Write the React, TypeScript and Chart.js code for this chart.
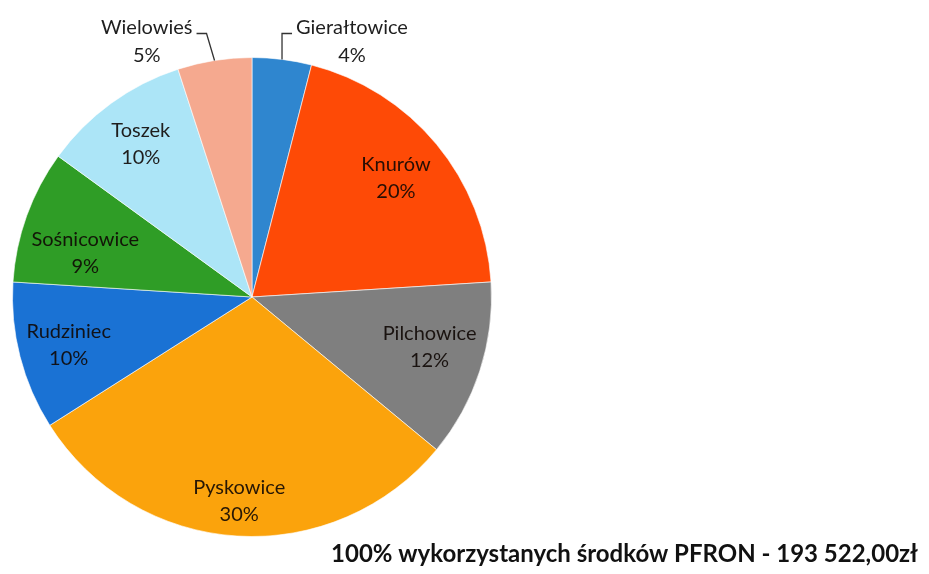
import React, { useEffect, useRef } from "react";
import { Chart, registerables } from "chart.js";

Chart.register(...registerables);

const categories = ["Gierałtowice", "Knurów", "Pilchowice", "Pyskowice", "Rudziniec", "Sośnicowice", "Toszek", "Wielowieś"];
const shares = [4, 20, 12, 30, 10, 9, 10, 5];
const sliceColors = ["#2f86cf", "#fe4a06", "#7f7f7f", "#fba30c", "#1a72d4", "#2f9d26", "#acE5f7", "#f5a98f"];
const footerText = "100% wykorzystanych środków PFRON - 193 522,00zł";

// label placement styling: radius fraction and angle shift (degrees)
const labelRadius = [0, 0.78, 0.77, 0.85, 0.79, 0.72, 0.79, 0];
const labelAngleShift = [0, 0, -2.3, 0, 0, -5, 0, 0];
const outsideIdx = [0, 7];

const labelPlugin = {
  id: "pieLabels",
  afterDraw(chart: any) {
    const ctx = chart.ctx;
    const meta = chart.getDatasetMeta(0);
    const font = "20px Lato";
    ctx.save();
    ctx.textAlign = "center";
    ctx.textBaseline = "middle";
    meta.data.forEach((arc: any, i: number) => {
      const { x, y, startAngle, endAngle, outerRadius } = arc.getProps(["x", "y", "startAngle", "endAngle", "outerRadius"], true);
      const mid = (startAngle + endAngle) / 2 + (labelAngleShift[i] * Math.PI) / 180;
      const text1 = categories[i];
      const text2 = shares[i] + "%";
      if (outsideIdx.includes(i)) {
        const ex = x + Math.cos(mid) * outerRadius;
        const ey = y + Math.sin(mid) * outerRadius;
        const right = Math.cos(mid) > 0;
        const elbowY = y - outerRadius - 24;
        const elbowX = right ? ex : ex - 8;
        const endX = right ? elbowX + 10 : elbowX - 10;
        ctx.strokeStyle = "#333";
        ctx.lineWidth = 1.3;
        ctx.beginPath();
        ctx.moveTo(ex, ey);
        ctx.lineTo(elbowX, elbowY);
        ctx.lineTo(endX, elbowY);
        ctx.stroke();
        ctx.font = font;
        ctx.fillStyle = "#1f1f1f";
        const w = ctx.measureText(text1).width;
        const cx = right ? endX + 4 + w / 2 : endX - 4 - w / 2;
        ctx.fillText(text1, cx, elbowY - 6);
        ctx.fillText(text2, cx, elbowY + 22);
      } else {
        const r = outerRadius * labelRadius[i];
        const lx = x + Math.cos(mid) * r;
        const ly = y + Math.sin(mid) * r;
        ctx.font = font;
        ctx.fillStyle = "rgba(15,8,4,0.9)";
        ctx.fillText(text1, lx, ly - 13);
        ctx.fillText(text2, lx, ly + 14);
      }
    });
    ctx.font = "bold 24px Lato";
    ctx.textAlign = "right";
    ctx.textBaseline = "alphabetic";
    ctx.fillStyle = "#111";
    ctx.fillText(footerText, 918, 562);
    ctx.restore();
  },
};

export default function App() {
  const ref = useRef<HTMLCanvasElement | null>(null);
  useEffect(() => {
    document.body.style.margin = "0";
    const chart = new Chart(ref.current as HTMLCanvasElement, {
      type: "pie",
      data: {
        labels: categories,
        datasets: [
          {
            data: shares,
            backgroundColor: sliceColors,
            borderColor: "rgba(255,255,255,0.6)",
            borderWidth: 1,
          },
        ],
      },
      options: {
        responsive: false,
        animation: false,
        layout: { padding: { left: 12, right: 437, top: 57, bottom: 37 } },
        plugins: {
          legend: { display: false },
          tooltip: { enabled: false },
          title: { display: false },
        },
      },
      plugins: [labelPlugin],
    });
    return () => chart.destroy();
  }, []);
  return (
    <div style={{ position: "fixed", left: 0, top: 0, width: 929, height: 574, background: "#fff" }}>
      <canvas ref={ref} width={929} height={574} />
    </div>
  );
}
